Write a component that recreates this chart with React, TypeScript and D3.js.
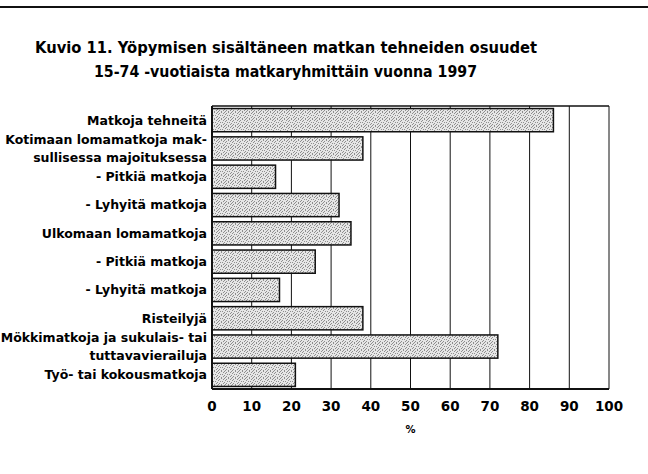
import React from 'react';
import * as d3 from 'd3';

// chart values
const categories: string[][] = [
  ['Matkoja tehneitä'],
  ['Kotimaan lomamatkoja mak-', 'sullisessa majoituksessa'],
  ['- Pitkiä matkoja'],
  ['- Lyhyitä matkoja'],
  ['Ulkomaan lomamatkoja'],
  ['- Pitkiä matkoja'],
  ['- Lyhyitä matkoja'],
  ['Risteilyjä'],
  ['Mökkimatkoja ja sukulais- tai', 'tuttavavierailuja'],
  ['Työ- tai kokousmatkoja'],
];
const values: number[] = [86, 38, 16, 32, 35, 26, 17, 38, 72, 21];
const ticks: number[] = [0, 10, 20, 30, 40, 50, 60, 70, 80, 90, 100];
const titleLines: string[] = [
  'Kuvio 11.  Yöpymisen sisältäneen matkan tehneiden osuudet',
  '15-74 -vuotiaista  matkaryhmittäin   vuonna 1997',
];
const axisTitle = '%';

// scattered dots for the printed stipple fill
const stippleDots: [number, number][] = [
  [0, 0], [4, 0], [2, 1], [6, 1], [1, 2], [5, 3],
  [3, 3], [0, 4], [6, 5], [2, 5], [4, 6], [1, 6],
];

const W = 648;
const H = 474;
const plot = { left: 212, right: 609, top: 106, bottom: 389 };
const font = '"DejaVu Sans", "Liberation Sans", Arial, sans-serif';

export default function App() {
  const x = d3.scaleLinear().domain([0, 100]).range([plot.left, plot.right]);
  const y = d3
    .scaleBand<number>()
    .domain(d3.range(values.length))
    .range([plot.top, plot.bottom])
    .paddingInner(0.18)
    .paddingOuter(0.09);

  return (
    <svg
      width={W}
      height={H}
      style={{ position: 'absolute', left: 0, top: 0, background: '#fff' }}
      fontFamily={font}
    >
      <defs>
        <pattern id="stipple" width={7} height={7} patternUnits="userSpaceOnUse">
          <rect width={7} height={7} fill="#e6e6e6" />
          {stippleDots.map(([px, py], k) => (
            <rect key={k} x={px} y={py} width={1} height={1} fill="#8e8e8e" />
          ))}
        </pattern>
      </defs>

      {/* rule at top of page */}
      <line x1={0} x2={W} y1={7} y2={7} stroke="#111" strokeWidth={2} />

      {/* title */}
      <text x={35} y={53} fontSize={16} fontWeight="bold" textLength={502} lengthAdjust="spacingAndGlyphs">
        {titleLines[0]}
      </text>
      <text x={94} y={77} fontSize={16} fontWeight="bold" textLength={383} lengthAdjust="spacingAndGlyphs">
        {titleLines[1]}
      </text>

      {/* grid lines */}
      {ticks.slice(1).map((t) => (
        <line key={t} x1={x(t)} x2={x(t)} y1={plot.top} y2={plot.bottom} stroke="#111" strokeWidth={1} />
      ))}
      <line x1={plot.left} x2={plot.right} y1={plot.top} y2={plot.top} stroke="#111" strokeWidth={1.5} />

      {/* bars */}
      {values.map((v, i) => (
        <rect
          key={i}
          x={x(0)}
          y={y(i)!}
          width={x(v) - x(0)}
          height={y.bandwidth()}
          fill="url(#stipple)"
          stroke="#111"
          strokeWidth={1.5}
        />
      ))}

      {/* axes */}
      <line x1={plot.left} x2={plot.left} y1={plot.top} y2={plot.bottom} stroke="#111" strokeWidth={2} />
      <line x1={plot.left} x2={plot.right} y1={plot.bottom} y2={plot.bottom} stroke="#111" strokeWidth={2} />

      {/* category labels */}
      {categories.map((lines, i) => {
        const cy = y(i)! + y.bandwidth() / 2;
        const lh = 18;
        return lines.map((ln, j) => (
          <text
            key={`${i}-${j}`}
            x={207}
            y={cy + (j - (lines.length - 1) / 2) * lh}
            dy="0.35em"
            textAnchor="end"
            fontSize={12.5}
            fontWeight="bold"
          >
            {ln}
          </text>
        ));
      })}

      {/* tick labels */}
      {ticks.map((t) => (
        <text key={t} x={x(t)} y={406} dy="0.35em" textAnchor="middle" fontSize={13.5} fontWeight="bold">
          {t}
        </text>
      ))}
      <text x={x(50)} y={429} dy="0.35em" textAnchor="middle" fontSize={10} fontWeight="bold">
        {axisTitle}
      </text>
    </svg>
  );
}
